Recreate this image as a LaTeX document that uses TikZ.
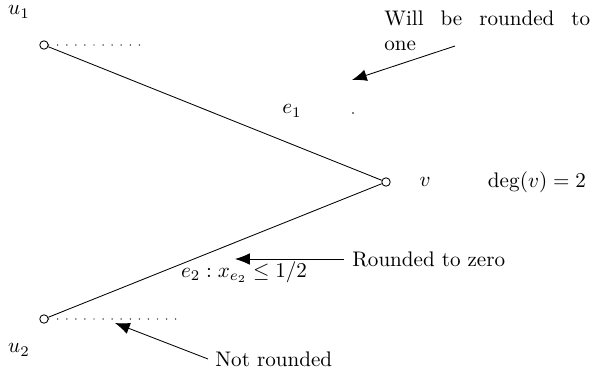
\documentclass[tikz,border=0pt]{standalone}
\usepackage{amsmath,amssymb}
\usetikzlibrary{arrows.meta}

\begin{document}
\begin{tikzpicture}[x=0.474pt,y=-0.474pt,
    vtx/.style={circle, draw, inner sep=0pt, minimum size=4pt},
    dots/.style={line width=0.7pt, line cap=round, dash pattern=on 0pt off 4.3pt},
    note/.style={-{Latex[length=7pt,width=5.5pt]}}]
  \useasboundingbox (0,0) rectangle (592,376);

  \node[vtx] (u1) at (44,45) {};
  \node[vtx] (v) at (386,182) {};
  \node[vtx] (u2) at (44,319) {};

  \node (lu1) at (19,12) {$u_1$};
  \node (lu2) at (19,350) {$u_2$};
  \node (lv) at (425,182) {$v$};
  \node (deg) at (537,182) {$\deg(v) = 2$};

  \coordinate (d1) at (142,45);
  \coordinate (d2) at (177,319);

  \draw (u1) -- (v);
  \draw (v) -- (u2);
  \draw[dots] (u1.east) -- (d1);
  \draw[dots] (u2.east) -- (d2);

  \node (e1) at (292,111) {$e_1$};
  \node (e2) at (244,272) {$e_2 : x_{e_2} \leq 1/2$};
  \fill (353,113) circle (0.4pt);

  \node[anchor=north west, text width=97.5pt, align=justify, inner sep=0pt] (one) at (384,10)
    {Will be rounded to\linebreak one};
  \node[anchor=west, inner sep=0pt] (zero) at (352,259) {Rounded to zero};
  \node[anchor=west, inner sep=0pt] (notr) at (215,359) {Not rounded};

  \coordinate (t1) at (352,80);
  \coordinate (t2) at (235,259);
  \coordinate (t3) at (115,323);

  \draw[note] (455,46) -- (t1);
  \draw[note] (zero.west) ++(-8,0) -- (t2);
  \draw[note] (notr.west) ++(-7,0) -- (t3);
\end{tikzpicture}
\end{document}
